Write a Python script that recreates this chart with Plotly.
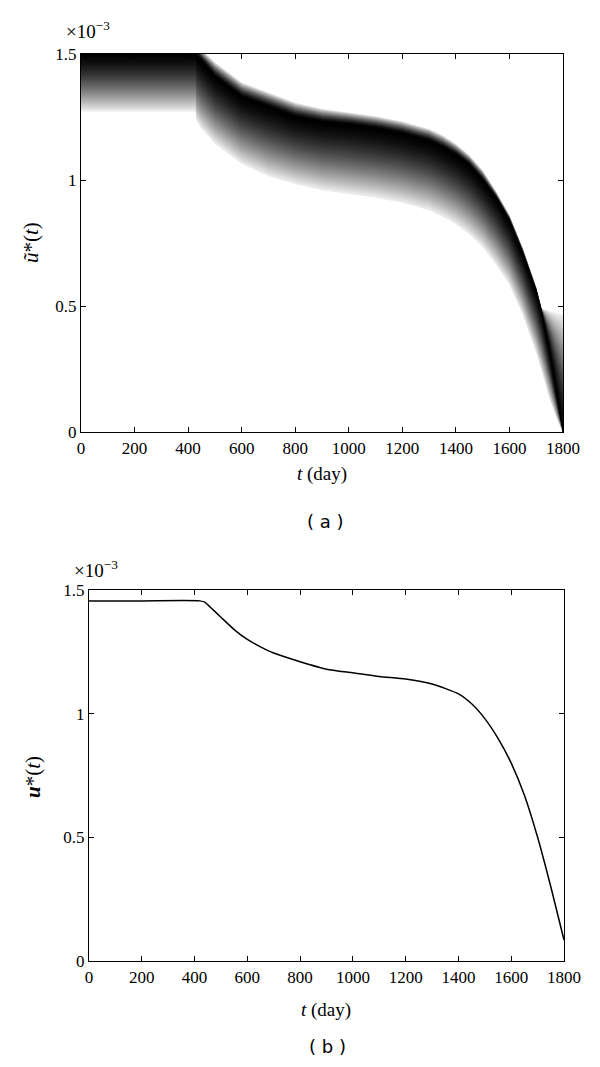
"""
Fuzzy optimal control (a) and crisp optimal control (b) over 1800 days.
"""

import numpy as np
import plotly.graph_objects as go

# panel (a): membership band of the fuzzy control, values in units of 1e-3
T_FUZZY = [0, 200, 428, 432, 450, 500, 600, 700, 800, 900, 1000, 1100, 1200,
           1300, 1350, 1400, 1450, 1500, 1550, 1600, 1650, 1700, 1720, 1750,
           1780, 1800]
PEAK = [1.50, 1.50, 1.50, 1.49, 1.47, 1.41, 1.33, 1.29, 1.25, 1.23, 1.22,
        1.205, 1.185, 1.155, 1.13, 1.10, 1.06, 1.00, 0.93, 0.84, 0.71, 0.56,
        0.48, 0.32, 0.13, 0.0]
UPPER = [1.55, 1.55, 1.55, 1.55, 1.52, 1.47, 1.39, 1.35, 1.31, 1.285, 1.27,
         1.255, 1.235, 1.205, 1.18, 1.145, 1.10, 1.04, 0.955, 0.86, 0.73,
         0.575, 0.49, 0.49, 0.49, 0.49]
LOWER = [1.26, 1.26, 1.26, 1.22, 1.19, 1.13, 1.05, 1.00, 0.97, 0.945, 0.93,
         0.915, 0.895, 0.865, 0.84, 0.81, 0.77, 0.72, 0.65, 0.57, 0.45, 0.30,
         0.23, 0.12, 0.04, 0.0]

# panel (b): crisp optimal control, units of 1e-3
T_CRISP = [0, 200, 420, 440, 460, 500, 550, 600, 650, 700, 800, 900, 1000,
           1100, 1200, 1300, 1400, 1450, 1500, 1550, 1600, 1650, 1700, 1750,
           1800]
U_CRISP = [1.456, 1.456, 1.456, 1.45, 1.43, 1.39, 1.34, 1.30, 1.27, 1.245,
           1.21, 1.18, 1.165, 1.15, 1.14, 1.12, 1.08, 1.04, 0.98, 0.90, 0.80,
           0.67, 0.50, 0.30, 0.085]

X_TICKS = list(range(0, 1801, 200))
Y_TICKS = [0, 0.5, 1, 1.5]
Y_TICK_TEXT = ["0", "0.5", "1", "1.5"]

# the page body keeps an 8 px margin, so the figure is that much smaller
BODY = 8
W, H = 600 - 2 * BODY, 1067 - 2 * BODY
SERIF = "Liberation Serif, DejaVu Serif, serif"


def px_x(x):
    # page pixel -> paper fraction
    return (x - BODY) / W


def px_y(y):
    return 1 - (y - BODY) / H


fig = go.Figure()

peak = np.array(PEAK)
upper = np.array(UPPER)
lower = np.array(LOWER)
t_loop = T_FUZZY + T_FUZZY[::-1]

# nested alpha-cut polygons, lightest (widest) first
for alpha in np.linspace(0.05, 0.98, 48):
    hi = peak + (1 - alpha) * (upper - peak)
    lo = peak - (1 - alpha) * (peak - lower)
    g = int(round(255 * (1 - alpha) ** 1.5))
    fig.add_trace(go.Scatter(
        x=t_loop,
        y=list(lo) + list(hi[::-1]),
        fill="toself",
        fillcolor=f"rgb({g},{g},{g})",
        line={"width": 0},
        mode="lines",
        hoverinfo="skip",
        showlegend=False,
        xaxis="x", yaxis="y",
    ))

fig.add_trace(go.Scatter(
    x=T_CRISP, y=U_CRISP,
    mode="lines",
    line={"color": "black", "width": 1.5, "shape": "spline", "smoothing": 0.6},
    showlegend=False,
    xaxis="x2", yaxis="y2",
))

axis_common = {
    "showgrid": False,
    "zeroline": False,
    "showline": True,
    "linecolor": "black",
    "linewidth": 1.3,
    "mirror": "ticks",
    "ticks": "inside",
    "ticklen": 5,
    "tickwidth": 1.2,
    "tickcolor": "black",
    "automargin": False,
    "tickfont": {"family": SERIF, "size": 17, "color": "black"},
}

fig.update_layout(
    width=W, height=H,
    autosize=False,
    margin={"l": 0, "r": 0, "t": 0, "b": 0, "pad": 0, "autoexpand": False},
    font={"family": SERIF, "size": 17, "color": "black"},
    paper_bgcolor="white",
    plot_bgcolor="white",
    xaxis={**axis_common, "domain": [px_x(81), px_x(563)], "range": [0, 1800],
           "tickvals": X_TICKS, "anchor": "y"},
    yaxis={**axis_common, "domain": [px_y(432), px_y(54)], "range": [0, 1.5],
           "tickvals": Y_TICKS, "ticktext": Y_TICK_TEXT, "anchor": "x"},
    xaxis2={**axis_common, "domain": [px_x(89), px_x(564)], "range": [0, 1800],
            "tickvals": X_TICKS, "anchor": "y2"},
    yaxis2={**axis_common, "domain": [px_y(961), px_y(590)], "range": [0, 1.5],
            "tickvals": Y_TICKS, "ticktext": Y_TICK_TEXT, "anchor": "x2"},
)

big_serif = {"family": SERIF, "size": 19, "color": "black"}
title_serif = {"family": SERIF, "size": 21, "color": "black"}
sans_font = {"family": "DejaVu Sans", "size": 18, "color": "black"}

notes = [
    # (text, x px, y px, angle, xanchor, font)
    ("×10<sup>−3</sup>", 64, 30, 0, "left", big_serif),
    ("×10<sup>−3</sup>", 72, 569, 0, "left", big_serif),
    ("<i>ũ</i>*(<i>t</i>)", 31, 243, -90, "center", title_serif),
    ("<b><i>u</i></b>*(<i>t</i>)", 33, 777, -90, "center", title_serif),
    ("<i>t</i> (day)", 322, 474, 0, "center", big_serif),
    ("<i>t</i> (day)", 326, 1010, 0, "center", big_serif),
    ("( a )", 325, 521, 0, "center", sans_font),
    ("( b )", 327, 1046, 0, "center", sans_font),
]
for text, x, y, angle, xanchor, font in notes:
    fig.add_annotation(
        text=text, x=px_x(x), y=px_y(y), xref="paper", yref="paper",
        showarrow=False, textangle=angle, xanchor=xanchor, yanchor="middle",
        font=font,
    )

fig.write_html("out.html")
